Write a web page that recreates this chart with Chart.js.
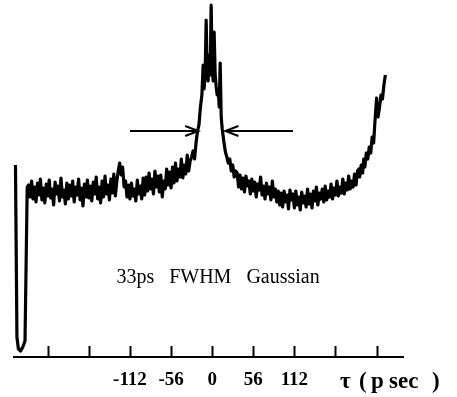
<!DOCTYPE html>
<html>
<head>
<meta charset="utf-8">
<script src="https://cdn.jsdelivr.net/npm/chart.js@4/dist/chart.umd.min.js"></script>
<style>
  html, body { margin: 0; padding: 0; background: #fff; }
  #wrap { width: 457px; height: 397px; }
</style>
</head>
<body>
<div id="wrap"><canvas id="trace" width="457" height="397"></canvas></div>
<script>
// delay tau (ps) and detected signal (arb. units)
const tau = [
  -268, -266, -264, -261, -258, -255, -252,
  -250, -248, -246, -244, -242, -240, -238, -236, -234, -232,
  -230, -228, -226, -224, -222, -220, -218, -216, -214, -212,
  -210, -208, -206, -204, -202, -200, -198, -196, -194, -192,
  -190, -188, -186, -184, -182, -180, -178, -176, -174, -172,
  -170, -168, -166, -164, -162, -160, -158, -156, -154, -152,
  -150, -148, -146, -144, -142, -140, -138, -136, -134, -132,
  -130, -128, -126, -124, -122, -120, -118, -116, -114, -112,
  -110, -108, -106, -104, -102, -100, -98, -96, -94, -92,
  -90, -88, -86, -84, -82, -80, -78, -76, -74, -72,
  -70, -68, -66, -64, -62, -60, -58, -56, -54, -52,
  -50, -48, -46, -44, -42, -40, -38, -36, -34, -32,
  -30,
  -28, -26, -24, -22, -20, -18, -16, -14,
  -12.3, -11, -9.6, -8.2, -6.8, -5.5, -4.1, -2.7, -1.4,
  0, 1.4, 2.7, 4.1, 5.5, 6.8, 8.2, 9.6, 10.9, 12.3, 13.7,
  16, 18, 20, 22, 24, 26, 28, 30, 32,
  34, 36, 38, 40, 42, 44, 46, 48, 50, 52,
  54, 56, 58, 60, 62, 64, 66, 68, 70, 72,
  74, 76, 78, 80, 82, 84, 86, 88, 90, 92,
  94, 96, 98, 100, 102, 104, 106, 108, 110, 112,
  114, 116, 118, 120, 122, 124, 126, 128, 130, 132,
  134, 136, 138, 140, 142, 144, 146, 148, 150, 152,
  154, 156, 158, 160, 162, 164, 166, 168, 170, 172,
  174, 176, 178, 180, 182, 184, 186, 188, 190, 192,
  194, 196, 198,
  200, 201, 203, 205, 206.5, 208, 210, 212, 214, 216,
  218, 220, 222, 224, 225, 226, 228, 230, 232, 234, 236
];
const signal = [
  192, 20, 8, 6, 10, 16, 170,
  172, 160, 176, 158, 170, 155, 174, 162, 178, 157,
  169, 154, 173, 161, 177, 159, 168, 152, 175, 163,
  171, 156, 179, 160, 167, 153, 174, 158, 172, 161,
  176, 155, 170, 162, 178, 157, 169, 151, 173, 160,
  177, 159, 171, 156, 175, 163, 180, 158, 170, 154,
  176, 160, 181, 163, 172, 157, 178, 164, 183, 161,
  175, 186, 194, 182, 190, 170, 176, 160, 172, 158,
  174, 161, 168, 156, 177, 163, 171, 158, 179, 162,
  180, 166, 184, 168, 178, 163, 186, 170, 181, 165,
  182, 160, 176, 168, 188, 172, 185, 169, 190, 174,
  194, 176, 188, 180, 198, 179, 192, 183, 202, 186,
  196,
  200, 206, 198, 214, 226, 232, 250, 262,
  292, 268, 282, 337, 286, 276, 302, 282, 352,
  292, 276, 325, 282, 270, 262, 268, 250, 294, 240, 228,
  215, 205, 200, 194, 198, 186, 192, 180, 186,
  184, 170, 182, 168, 179, 165, 181, 171, 176, 163,
  178, 166, 175, 160, 173, 167, 180, 162, 171, 158,
  174, 163, 170, 157, 176, 160, 168, 155, 166, 152,
  164, 150, 166, 155, 162, 148, 167, 157, 163, 149,
  166, 152, 160, 147, 165, 154, 161, 150, 168, 153,
  163, 149, 166, 156, 170, 152, 164, 158, 168, 155,
  171, 157, 166, 160, 173, 158, 169, 162, 176, 161,
  170, 164, 178, 163, 174, 167, 181, 168, 176, 170,
  183, 172, 186,
  188, 180, 192, 184, 198, 190, 204, 198, 210, 204,
  220, 214, 238, 259, 244, 240, 250, 262, 258, 272, 282
];

// FWHM marker arrows (tail -> tip), at this signal level
const arrowTail = [-112, 110];
const arrowTip = [-19, 18];
const arrowLevel = 226;

const tickValues = [-224, -168, -112, -56, 0, 56, 112, 168, 224];
const tickLabels = ['', '', '-112', '-56', '0', '56', '112', '', ''];

const SERIF = "'Liberation Serif', 'DejaVu Serif', serif";

const decor = {
  id: 'decor',
  afterDraw(chart) {
    const { ctx, scales: { x, y } } = chart;
    ctx.save();
    ctx.strokeStyle = '#000';
    ctx.fillStyle = '#000';

    // tick marks stand up from the axis
    ctx.lineWidth = 2;
    tickValues.forEach(v => {
      const px = Math.round(x.getPixelForValue(v)) + 0.5;
      ctx.beginPath();
      ctx.moveTo(px, y.bottom);
      ctx.lineTo(px, y.bottom - 11);
      ctx.stroke();
    });

    // arrow heads
    chart.data.datasets.forEach((ds, i) => {
      if (!ds.arrow) return;
      const pts = chart.getDatasetMeta(i).data;
      const tip = pts[pts.length - 1], prev = pts[pts.length - 2];
      const dir = Math.sign(tip.x - prev.x);
      ctx.lineWidth = 2;
      ctx.beginPath();
      ctx.moveTo(tip.x - dir * 13, tip.y - 5);
      ctx.lineTo(tip.x, tip.y);
      ctx.lineTo(tip.x - dir * 13, tip.y + 5);
      ctx.stroke();
    });

    ctx.textBaseline = 'middle';
    ctx.font = '20px ' + SERIF;
    ctx.textAlign = 'center';
    ctx.fillText('33ps   FWHM   Gaussian', x.getPixelForValue(8), y.getPixelForValue(79));

    // axis unit, spread out like the original lettering
    ctx.font = 'bold 23px ' + SERIF;
    ctx.textAlign = 'left';
    const ux = x.right - 63, uy = y.bottom + 25;
    [['\u03c4', 0], ['(', 19], ['p', 31], ['sec', 49], [')', 92]].forEach(([s, dx]) => ctx.fillText(s, ux + dx, uy));
    ctx.restore();
  }
};

function buildChart() {
  const el = document.getElementById('trace');
  const trace = tau.map((t, i) => ({ x: t, y: signal[i] }));
  const arrows = arrowTail.map((t, i) => ({
    data: [{ x: t, y: arrowLevel }, { x: arrowTip[i], y: arrowLevel }],
    borderColor: '#000', borderWidth: 2, pointRadius: 0, arrow: true
  }));

  new Chart(el.getContext('2d'), {
    type: 'line',
    data: {
      datasets: [
        { data: trace, borderColor: '#000', borderWidth: 3.2, pointRadius: 0, tension: 0, clip: false, borderJoinStyle: 'round' },
        ...arrows
      ]
    },
    options: {
      responsive: false,
      animation: false,
      layout: { padding: { left: 14, right: 54, top: 5, bottom: 5 } },
      plugins: { legend: { display: false }, tooltip: { enabled: false } },
      scales: {
        x: {
          type: 'linear',
          min: -270, max: 260,
          afterBuildTicks: s => { s.ticks = tickValues.map(v => ({ value: v })); },
          afterFit: s => { s.height = 35; },
          grid: { display: false, drawTicks: false },
          border: { display: true, color: '#000', width: 2 },
          ticks: {
            padding: 12,
            color: '#000',
            maxRotation: 0,
            autoSkip: false,
            font: { family: SERIF, size: 19, weight: 'bold' },
            callback: (v, i) => tickLabels[i]
          }
        },
        y: { display: false, min: 0, max: 352 }
      }
    },
    plugins: [decor]
  });
}

buildChart();
</script>
</body>
</html>
